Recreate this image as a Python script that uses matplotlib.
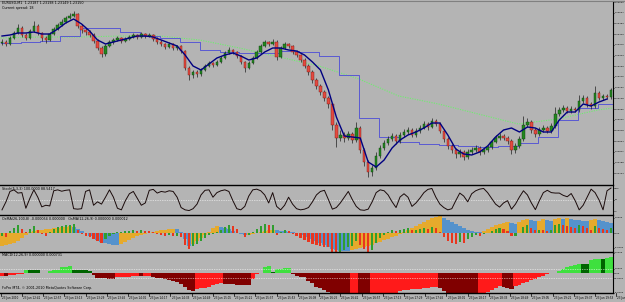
import numpy as np
import matplotlib.pyplot as plt
from matplotlib.lines import Line2D
from matplotlib.transforms import blended_transform_factory

W, H = 625, 302
BG = "#b4b4b4"

# ---------------- data (3-minute bars, EURUSD) ----------------
first_open = 1.23385
closes = [1.23390, 1.23380, 1.23410, 1.23435, 1.23460, 1.23425, 1.23410, 1.23445, 1.23470, 1.23435,
          1.23410, 1.23400, 1.23430, 1.23455, 1.23475, 1.23490, 1.23510, 1.23520, 1.23530, 1.23470,
          1.23450, 1.23440, 1.23425, 1.23395, 1.23360, 1.23330, 1.23370, 1.23390, 1.23400, 1.23410,
          1.23395, 1.23405, 1.23415, 1.23425, 1.23415, 1.23430, 1.23420, 1.23425, 1.23405, 1.23390,
          1.23380, 1.23365, 1.23380, 1.23360, 1.23370, 1.23345, 1.23260, 1.23225, 1.23240, 1.23230,
          1.23250, 1.23270, 1.23285, 1.23275, 1.23290, 1.23310, 1.23335, 1.23350, 1.23340, 1.23320,
          1.23290, 1.23260, 1.23285, 1.23310, 1.23340, 1.23370, 1.23390, 1.23380, 1.23390, 1.23315,
          1.23360, 1.23380, 1.23370, 1.23340, 1.23325, 1.23300, 1.23270, 1.23240, 1.23200, 1.23170,
          1.23140, 1.23110, 1.23080, 1.22975, 1.22910, 1.22925, 1.22910, 1.22930, 1.22900, 1.22960,
          1.22850, 1.22790, 1.22740, 1.22760, 1.22820, 1.22860, 1.22885, 1.22905, 1.22920, 1.22895,
          1.22925, 1.22940, 1.22950, 1.22925, 1.22945, 1.22960, 1.22980, 1.22965, 1.22995, 1.22980,
          1.22945, 1.22905, 1.22870, 1.22850, 1.22830, 1.22840, 1.22815, 1.22840, 1.22850, 1.22860,
          1.22840, 1.22850, 1.22865, 1.22890, 1.22910, 1.22920, 1.22910, 1.22895, 1.22850, 1.22870,
          1.22905, 1.22975, 1.22990, 1.22950, 1.22930, 1.22950, 1.22960, 1.22945, 1.22970, 1.23030,
          1.23050, 1.23060, 1.23045, 1.23055, 1.23050, 1.23095, 1.23110, 1.23080, 1.23070, 1.23135,
          1.23110, 1.23120, 1.23115, 1.23150]
highs = [1.23405, 1.23400, 1.23420, 1.23445, 1.23480, 1.23470, 1.23435, 1.23455, 1.23495, 1.23480,
         1.23440, 1.23420, 1.23440, 1.23465, 1.23485, 1.23505, 1.23520, 1.23535, 1.23545, 1.23535,
         1.23480, 1.23460, 1.23450, 1.23435, 1.23405, 1.23370, 1.23380, 1.23400, 1.23410, 1.23420,
         1.23415, 1.23415, 1.23425, 1.23435, 1.23430, 1.23440, 1.23435, 1.23435, 1.23430, 1.23415,
         1.23400, 1.23385, 1.23390, 1.23385, 1.23375, 1.23375, 1.23350, 1.23270, 1.23250, 1.23250,
         1.23260, 1.23280, 1.23295, 1.23290, 1.23300, 1.23320, 1.23345, 1.23365, 1.23355, 1.23345,
         1.23325, 1.23295, 1.23295, 1.23320, 1.23350, 1.23380, 1.23400, 1.23395, 1.23405, 1.23400,
         1.23370, 1.23390, 1.23385, 1.23375, 1.23350, 1.23330, 1.23310, 1.23280, 1.23250, 1.23210,
         1.23180, 1.23150, 1.23120, 1.23085, 1.22990, 1.22950, 1.22940, 1.22945, 1.22940, 1.22990,
         1.22970, 1.22860, 1.22800, 1.22775, 1.22840, 1.22875, 1.22900, 1.22920, 1.22935, 1.22930,
         1.22940, 1.22955, 1.22965, 1.22960, 1.22960, 1.22975, 1.22995, 1.22990, 1.23010, 1.23005,
         1.22990, 1.22955, 1.22915, 1.22880, 1.22860, 1.22855, 1.22850, 1.22855, 1.22865, 1.22875,
         1.22870, 1.22860, 1.22875, 1.22900, 1.22925, 1.22935, 1.22930, 1.22920, 1.22905, 1.22885,
         1.22920, 1.23020, 1.23010, 1.23000, 1.22960, 1.22965, 1.22975, 1.22970, 1.22985, 1.23065,
         1.23065, 1.23075, 1.23070, 1.23070, 1.23065, 1.23125, 1.23125, 1.23120, 1.23090, 1.23170,
         1.23145, 1.23130, 1.23130, 1.23160]
lows = [1.23375, 1.23370, 1.23375, 1.23405, 1.23430, 1.23415, 1.23400, 1.23405, 1.23440, 1.23425,
        1.23395, 1.23385, 1.23395, 1.23425, 1.23450, 1.23470, 1.23485, 1.23505, 1.23515, 1.23460,
        1.23435, 1.23425, 1.23415, 1.23385, 1.23350, 1.23315, 1.23320, 1.23365, 1.23380, 1.23395,
        1.23385, 1.23390, 1.23400, 1.23410, 1.23405, 1.23410, 1.23410, 1.23415, 1.23395, 1.23380,
        1.23370, 1.23355, 1.23360, 1.23350, 1.23350, 1.23335, 1.23250, 1.23200, 1.23210, 1.23215,
        1.23220, 1.23245, 1.23265, 1.23265, 1.23270, 1.23285, 1.23305, 1.23330, 1.23330, 1.23310,
        1.23280, 1.23240, 1.23255, 1.23280, 1.23305, 1.23335, 1.23365, 1.23370, 1.23375, 1.23300,
        1.23310, 1.23355, 1.23360, 1.23330, 1.23315, 1.23290, 1.23260, 1.23225, 1.23185, 1.23155,
        1.23125, 1.23095, 1.23060, 1.22950, 1.22865, 1.22895, 1.22890, 1.22900, 1.22885, 1.22890,
        1.22835, 1.22770, 1.22715, 1.22720, 1.22750, 1.22810, 1.22850, 1.22875, 1.22895, 1.22880,
        1.22885, 1.22915, 1.22930, 1.22915, 1.22915, 1.22935, 1.22955, 1.22950, 1.22960, 1.22970,
        1.22935, 1.22890, 1.22855, 1.22835, 1.22810, 1.22815, 1.22800, 1.22805, 1.22830, 1.22840,
        1.22825, 1.22830, 1.22840, 1.22855, 1.22885, 1.22900, 1.22900, 1.22880, 1.22830, 1.22835,
        1.22860, 1.22895, 1.22965, 1.22935, 1.22915, 1.22920, 1.22940, 1.22935, 1.22935, 1.22960,
        1.23020, 1.23040, 1.23035, 1.23035, 1.23040, 1.23040, 1.23085, 1.23065, 1.23055, 1.23060,
        1.23100, 1.23100, 1.23105, 1.23105]

# fast moving average, one value every second bar
ma_fast = [1.23420, 1.23425, 1.23435, 1.23435, 1.23440, 1.23430, 1.23430, 1.23455, 1.23485, 1.23505,
           1.23480, 1.23445, 1.23400, 1.23380, 1.23390, 1.23400, 1.23410, 1.23420, 1.23420, 1.23415,
           1.23400, 1.23385, 1.23370, 1.23325, 1.23270, 1.23250, 1.23280, 1.23310, 1.23325, 1.23335,
           1.23320, 1.23300, 1.23310, 1.23340, 1.23360, 1.23360, 1.23350, 1.23345, 1.23325, 1.23290,
           1.23250, 1.23150, 1.23015, 1.22920, 1.22915, 1.22910, 1.22790, 1.22765, 1.22800, 1.22860,
           1.22900, 1.22925, 1.22940, 1.22960, 1.22985, 1.22985, 1.22925, 1.22855, 1.22830, 1.22825,
           1.22840, 1.22870, 1.22915, 1.22950, 1.22960, 1.22940, 1.22965, 1.22960, 1.22940, 1.22940,
           1.23000, 1.23040, 1.23040, 1.23080, 1.23070, 1.23090, 1.23105]
# higher timeframe MA, one value per 15 minutes
ma_m15 = [1.23385, 1.23390, 1.23395, 1.23420, 1.23460, 1.23460, 1.23440, 1.23420, 1.23410, 1.23390,
          1.23350, 1.23340, 1.23335, 1.23335, 1.23345, 1.23340, 1.23320, 1.23225, 1.23010, 1.22915,
          1.22890, 1.22880, 1.22875, 1.22870, 1.22865, 1.22870, 1.22885, 1.22915, 1.23000, 1.23060,
          1.23080]
ma_long_t = [0, 30, 60, 90, 120, 150, 180, 210, 240, 270, 300, 330, 360, 390, 420, 450, 461]
ma_long = [1.23410, 1.23415, 1.23415, 1.23420, 1.23420, 1.23400, 1.23360, 1.23315, 1.23270, 1.23205,
           1.23120, 1.23080, 1.23030, 1.22980, 1.23005, 1.23050, 1.23060]

stoch = [5, 40, 85, 92, 78, 80, 12, 55, 92, 60,
         18, 25, 22, 88, 92, 86, 90, 92, 10, 8,
         10, 85, 92, 25, 40, 30, 60, 92, 60, 12,
         5, 45, 75, 85, 55, 25, 35, 90, 94, 78,
         85, 82, 88, 85, 60, 15, 5, 2, 10, 30,
         70, 90, 92, 60, 80, 88, 92, 85, 45, 10,
         5, 20, 65, 92, 95, 88, 70, 35, 80, 20,
         5, 25, 60, 30, 10, 5, 8, 15, 40, 70,
         85, 90, 50, 8, 15, 35, 60, 85, 50, 20,
         5, 3, 8, 40, 80, 92, 88, 70, 40, 15,
         61, 75, 60, 20, 35, 56, 80, 94, 98, 60,
         30, 15, 5, 10, 45, 78, 65, 40, 75, 88,
         95, 98, 80, 55, 30, 17, 35, 45, 8, 30,
         61, 88, 70, 35, 6, 45, 80, 90, 80, 78,
         78, 68, 62, 76, 45, 5, 25, 60, 95, 80,
         48, 5, 88, 100]

osma_slow = [-0.00026, -0.00024, -0.00022, -0.00020, -0.00016, -0.00010, -0.00004, 0.00002, 0.00004, 0.00006,
             0.00007, 0.00008, 0.00009, 0.00010, 0.00011, 0.00012, 0.00013, 0.00014, 0.00012, 0.00008,
             0.00004, 0.00000, -0.00006, -0.00010, -0.00014, -0.00018, -0.00020, -0.00022, -0.00023, -0.00024,
             -0.00022, -0.00018, -0.00014, -0.00010, -0.00006, -0.00003, -0.00001, 0.00001, 0.00003, 0.00005,
             0.00006, 0.00007, 0.00008, 0.00009, 0.00008, 0.00002, -0.00012, -0.00026, -0.00022, -0.00016,
             -0.00010, -0.00004, 0.00002, 0.00010, 0.00014, 0.00012, 0.00010, 0.00008, 0.00004, 0.00000,
             -0.00002, -0.00004, -0.00003, -0.00002, 0.00000, 0.00002, 0.00004, 0.00006, 0.00007, 0.00006,
             0.00005, 0.00004, 0.00003, 0.00002, 0.00000, -0.00002, -0.00004, -0.00008, -0.00012, -0.00016,
             -0.00020, -0.00024, -0.00028, -0.00032, -0.00034, -0.00035, -0.00036, -0.000365, -0.00034, -0.00032,
             -0.00030, -0.00028, -0.00026, -0.00023, -0.00020, -0.00017, -0.00014, -0.00011, -0.00008, -0.00005,
             -0.00002, 0.00002, 0.00006, 0.00010, 0.00014, 0.00018, 0.00022, 0.00026, 0.00030, 0.00033,
             0.00034, 0.00030, 0.00026, 0.00022, 0.00018, 0.00014, 0.00010, 0.00006, 0.00004, 0.00003,
             0.00002, 0.00004, 0.00008, 0.00012, 0.00016, 0.00018, 0.00020, 0.00022, 0.00020, 0.00019,
             0.00022, 0.00026, 0.00028, 0.00026, 0.00024, 0.00025, 0.00028, 0.00026, 0.00025, 0.00028,
             0.00030, 0.00028, 0.00030, 0.00028, 0.00027, 0.00026, 0.00025, 0.00024, 0.00026, 0.00028,
             0.00026, 0.00024, 0.00022, 0.00020]
osma_fast = [-0.00006, -0.00008, 0.00004, 0.00010, 0.00016, 0.00008, 0.00002, 0.00008, 0.00014, 0.00006,
             -0.00002, -0.00006, 0.00002, 0.00008, 0.00012, 0.00014, 0.00016, 0.00017, 0.00018, 0.00006,
             -0.00002, -0.00006, -0.00008, -0.00012, -0.00016, -0.00020, -0.00012, -0.00006, -0.00002, 0.00002,
             0.00003, 0.00004, 0.00005, 0.00006, 0.00005, 0.00006, 0.00005, 0.00004, 0.00002, -0.00002,
             -0.00004, -0.00006, -0.00004, -0.00006, -0.00005, -0.00008, -0.00024, -0.00032, -0.00026, -0.00022,
             -0.00016, -0.00010, -0.00004, -0.00002, 0.00002, 0.00006, 0.00012, 0.00016, 0.00014, 0.00008,
             0.00000, -0.00008, -0.00004, 0.00002, 0.00008, 0.00014, 0.00018, 0.00016, 0.00017, -0.00004,
             0.00002, 0.00006, 0.00004, -0.00002, -0.00006, -0.00010, -0.00014, -0.00018, -0.00022, -0.00024,
             -0.00026, -0.00027, -0.00028, -0.00040, -0.00048, -0.00040, -0.00034, -0.00028, -0.00026, -0.00016,
             -0.00024, -0.00032, -0.00040, -0.00034, -0.00020, -0.00010, -0.00004, 0.00002, 0.00006, 0.00004,
             0.00006, 0.00008, 0.00010, 0.00006, 0.00007, 0.00008, 0.00010, 0.00008, 0.00012, 0.00010,
             0.00002, -0.00008, -0.00016, -0.00020, -0.00022, -0.00018, -0.00019, -0.00012, -0.00008, -0.00004,
             -0.00005, -0.00002, 0.00000, 0.00004, 0.00008, 0.00010, 0.00008, 0.00004, -0.00006, -0.00005,
             0.00000, 0.00012, 0.00016, 0.00010, 0.00006, 0.00007, 0.00006, 0.00004, 0.00006, 0.00016,
             0.00018, 0.00017, 0.00014, 0.00012, 0.00010, 0.00016, 0.00015, 0.00010, 0.00006, 0.00014,
             0.00010, 0.00008, 0.00006, 0.00010]

macd_hist = [-0.00010, -0.00012, -0.00008, -0.00006, -0.00003, -0.00002, 0.00016, 0.00015, 0.00014, 0.00013,
             0.00003, 0.00004, 0.00012, 0.00014, 0.00016, 0.00026, 0.00028, 0.00030, 0.00016, 0.00015,
             0.00014, 0.00013, 0.00012, -0.00006, -0.00018, -0.00020, -0.00021, -0.00022, -0.00023, -0.00014,
             -0.00014, -0.00013, -0.00013, -0.00012, -0.00011, -0.00012, -0.00010, -0.00009, -0.00014, -0.00018,
             -0.00020, -0.00024, -0.00026, -0.00030, -0.00036, -0.00045, -0.00055, -0.00068, -0.00072, -0.00064,
             -0.00062, -0.00060, -0.00056, -0.00050, -0.00046, -0.00042, -0.00044, -0.00045, -0.00046, -0.00047,
             -0.00048, -0.00049, -0.00050, -0.00025, -0.00002, 0.00004, 0.00028, 0.00030, 0.00005, 0.00020,
             0.00021, 0.00022, 0.00023, -0.00002, -0.00012, -0.00013, -0.00015, -0.00030, -0.00042, -0.00055,
             -0.00060, -0.00068, -0.00076, -0.00085, -0.00095, -0.00102, -0.00108, -0.00112, -0.00110, -0.00108,
             -0.00115, -0.00125, -0.00135, -0.00128, -0.00120, -0.00112, -0.00104, -0.00096, -0.00088, -0.00080,
             -0.00072, -0.00070, -0.00068, -0.00066, -0.00065, -0.00064, -0.00062, -0.00060, -0.00058, -0.00056,
             -0.00062, -0.00072, -0.00082, -0.00092, -0.00100, -0.00106, -0.00110, -0.00112, -0.00114, -0.00115,
             -0.00100, -0.00088, -0.00078, -0.00068, -0.00060, -0.00052, -0.00058, -0.00062, -0.00064, -0.00052,
             -0.00048, -0.00040, -0.00034, -0.00028, -0.00022, -0.00016, -0.00010, -0.00004, 0.00001, 0.00004,
             0.00012, 0.00018, 0.00026, 0.00030, 0.00034, 0.00040, 0.00039, 0.00038, 0.00058, 0.00060,
             0.00062, 0.00061, 0.00066, 0.00068]

time_labels = ["23 Jun 2010", "23 Jun 12:41", "23 Jun 12:57", "23 Jun 13:13", "23 Jun 13:29",
               "23 Jun 13:45", "23 Jun 14:01", "23 Jun 14:17", "23 Jun 14:33", "23 Jun 14:49",
               "23 Jun 15:05", "23 Jun 15:21", "23 Jun 15:37", "23 Jun 15:53", "23 Jun 16:09",
               "23 Jun 16:25", "23 Jun 16:41", "23 Jun 16:57", "23 Jun 17:13", "23 Jun 17:29",
               "23 Jun 17:45", "23 Jun 18:01", "23 Jun 18:17", "23 Jun 18:33", "23 Jun 18:49",
               "23 Jun 19:05", "23 Jun 19:21", "23 Jun 19:37", "23 Jun 19:53", "23 Jun 20:09"]

# ---------------- figure ----------------
fig = plt.figure(figsize=(W / 100, H / 100), dpi=100, facecolor=BG)
FS = 2.4      # pane titles
FS_AX = 1.7   # axis labels


def pane(top, bottom):
    ax = fig.add_axes([0, 1 - bottom / H, 613 / W, (bottom - top) / H], facecolor=BG)
    ax.set_xlim(-0.5, 461.5)
    for s in ("top", "left", "bottom"):
        ax.spines[s].set_visible(False)
    ax.spines["right"].set_color("black")
    ax.spines["right"].set_linewidth(0.8)
    ax.set_xticks([])
    ax.yaxis.tick_right()
    ax.tick_params(axis="y", direction="out", length=1.0, width=0.5, pad=0.3,
                   labelsize=FS_AX, colors="black")
    return ax


def rising(vals):
    v = np.asarray(vals, dtype=float)
    d = np.diff(v, prepend=v[0])
    return d >= 0


t = np.arange(len(closes)) * 3 + 1.0
c = np.array(closes)
o = np.array([first_open] + closes[:-1])

# main chart
ax = pane(1, 184.5)
ax.set_ylim(1.226775, 1.23595)
ticks = 1.23590 - 0.000535 * np.arange(17)
ax.set_yticks(ticks)
ax.set_yticklabels([f"{p:.5f}" for p in ticks])

ax.plot(ma_long_t, ma_long, color="#6cf06c", lw=0.8, ls=(0, (1, 1.2)), zorder=1)
t15 = np.arange(len(ma_m15) + 1) * 15
ax.plot(t15, ma_m15 + ma_m15[-1:], color="#5a5ad2", lw=0.7, drawstyle="steps-post", zorder=2)

ax.vlines(t, lows, highs, color="#202020", lw=0.5, zorder=3)
up = c >= o
body = np.where(np.abs(c - o) < 0.00002, 0.00002, c - o)
ax.bar(t[up], body[up], bottom=o[up], width=1.9, color="#23871f",
       edgecolor="#0d3d0d", lw=0.3, zorder=4)
ax.bar(t[~up], body[~up], bottom=o[~up], width=1.9, color="#e44a40",
       edgecolor="#7a1a14", lw=0.3, zorder=4)
ax.plot(t[::2][:len(ma_fast)], ma_fast, color="#000080", lw=1.0, zorder=5)

fig.text(2 / W, 1 - 3.5 / H, "EURUSD,M1  1.23187 1.23198 1.23149 1.23150", fontsize=FS, va="center")
fig.text(2 / W, 1 - 8 / H, "Current spread: 18", fontsize=FS, va="center")

# stochastic
ax2 = pane(185.5, 214.5)
ax2.set_ylim(-15.2, 110.9)
ax2.set_yticks([100, 50, 0])
ax2.set_yticklabels(["100", "50", "0"])
ax2.axhline(50, color="white", lw=0.5, ls=(0, (1, 1.5)))
ax2.plot(t[:len(stoch)], stoch, color="#1a0a0a", lw=0.7)
fig.text(2 / W, 1 - 189.5 / H, "Stoch(5,3,3) 100.0000 88.5417", fontsize=FS, va="center")

# OsMA
ax3 = pane(215.5, 251.5)
ax3.set_ylim(-0.00037, 0.00035)
ax3.set_yticks([0.0003, 0, -0.0003])
ax3.set_yticklabels(["0.0003", "0.00", "-0.0003"])
rs = rising(osma_slow)
ax3.bar(t[:len(osma_slow)], osma_slow, width=3.05, lw=0,
        color=np.where(rs, "#e6aa2c", "#5592cc"))
rf = rising(osma_fast)
ax3.bar(t[:len(osma_fast)], osma_fast, width=1.6, lw=0,
        color=np.where(rf, "#2f9e2f", "#e8361f"))
fig.text(2 / W, 1 - 219 / H,
         "OsMA(26,100,8) -0.000054 0.000000   OsMA(12,26,9) 0.000000 0.000012",
         fontsize=FS, va="center")

# MACD
ax4 = pane(252.5, 292.5)
ax4.set_ylim(-0.0008, 0.000884)
ax4.set_yticks([0.00088, 0.0002, 0, -0.0002, -0.0008])
ax4.set_yticklabels(["0.0009", "0.0002", "0.00", "-0.0002", "-0.0008"])
m = np.array(macd_hist)
rm = rising(macd_hist)
cols = np.where(m >= 0, np.where(rm, "#3ee03e", "#006400"), np.where(rm, "#ff1a1a", "#800000"))
ax4.bar(t[:len(m)], m, width=3.05, lw=0, color=cols)
for lv in (0.0002, -0.0002):
    ax4.axhline(lv, color="white", lw=0.5, ls=(0, (1, 1.5)))
fig.text(2 / W, 1 - 255.5 / H, "MACD(12,26,9) 0.000000 0.000731", fontsize=FS, va="center")
fig.text(2 / W, 1 - 288 / H, "FxPro MT4, \u00a9 2001-2010 MetaQuotes Software Corp.",
         fontsize=FS, va="center")

# time axis
trans = blended_transform_factory(ax4.transData, fig.transFigure)
for k, lab in enumerate(time_labels):
    x = k * 16
    ax4.plot([x, x], [1 - 292.5 / H, 1 - 295.5 / H], color="black", lw=0.5,
             transform=trans, clip_on=False)
    ax4.text(x + 0.8, 1 - 297.5 / H, lab, fontsize=2.0, va="center", ha="left",
             transform=trans, clip_on=False)

# pane separators and frame
for y in (184.8, 215.0, 251.9, 292.6):
    fig.add_artist(Line2D([0, 613 / W], [1 - y / H] * 2, color="black", lw=1.0))
fig.add_artist(Line2D([0, 1], [1 - 0.5 / H] * 2, color="#808080", lw=0.8))

fig.savefig("out.png", dpi=100, facecolor=BG)
